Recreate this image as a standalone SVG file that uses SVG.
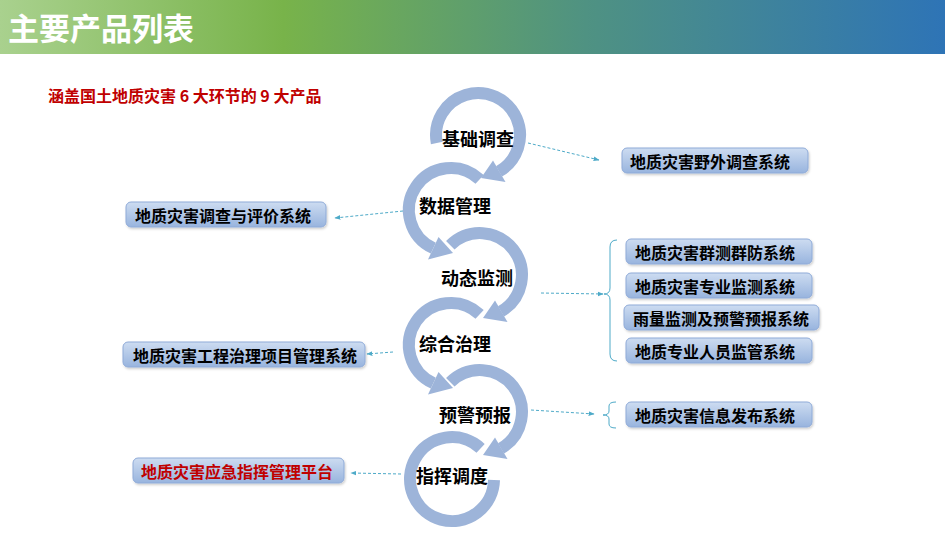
<svg xmlns="http://www.w3.org/2000/svg" width="950" height="535" viewBox="0 0 950 535">
<defs>
<linearGradient id="hdr" x1="0" y1="0" x2="1" y2="0">
<stop offset="0" stop-color="#a9d18e"/>
<stop offset="0.3" stop-color="#78b34a"/>
<stop offset="0.62" stop-color="#4f9282"/>
<stop offset="1" stop-color="#2e74b6"/>
</linearGradient>
<linearGradient id="box" x1="0" y1="0" x2="0" y2="1">
<stop offset="0" stop-color="#cddcf1"/>
<stop offset="1" stop-color="#98b4de"/>
</linearGradient>
<marker id="ah" viewBox="0 0 10 10" refX="9" refY="5" markerWidth="6" markerHeight="6" orient="auto" markerUnits="userSpaceOnUse">
<path d="M0,1 L10,5 L0,9 z" fill="#4eaac8"/>
</marker>
<filter id="sh" x="-5%" y="-20%" width="110%" height="150%">
<feDropShadow dx="1" dy="1.5" stdDeviation="1" flood-color="#000" flood-opacity="0.2"/>
</filter>
</defs>
<style>
.ring{fill:none;stroke:#9db4d9;stroke-width:12}
.head{fill:#9db4d9}
.lbl{font-family:"Noto Sans CJK SC","Liberation Sans",sans-serif;font-weight:bold;font-size:18px;fill:#000;text-anchor:middle;dominant-baseline:central}
.bx{fill:url(#box);stroke:#8fabd8;stroke-width:1;filter:url(#sh)}
.bt{font-family:"Noto Sans CJK SC","Liberation Sans",sans-serif;font-weight:bold;font-size:16px;fill:#000;dominant-baseline:central}
.con{fill:none;stroke:#4eaac8;stroke-width:1;stroke-dasharray:3,2}
.brk{fill:none;stroke:#4eaac8;stroke-width:1}
</style>

<rect x="0" y="0" width="945" height="54" fill="url(#hdr)"/>
<text x="8" y="26" font-family="'Noto Sans CJK SC','Liberation Sans',sans-serif" font-weight="bold" font-size="31" fill="#fff" dominant-baseline="central">主要产品列表</text>
<text x="48" y="95" font-family="'Noto Sans CJK SC','Liberation Sans',sans-serif" font-weight="bold" font-size="16" fill="#c00000" dominant-baseline="central">涵盖国土地质灾害 6 大环节的 9 大产品</text>

<g id="cycle">
<g id="ring1">
<path class="ring" d="M436.8,143 A42,42 0 1 1 499,171.4"/>
<polygon class="head" points="493,160.5 505.5,182 481,178"/>
<text class="lbl" x="478" y="138">基础调查</text>
</g>
<g id="ring2">
<path class="ring" d="M479.6,179.3 A42,42 0 1 0 433.3,248.1"/>
<polygon class="head" points="438.5,237 428,259.5 453,253"/>
<text class="lbl" x="455" y="205">数据管理</text>
</g>
<g id="ring3">
<path class="ring" d="M450.3,245.3 A42,42 0 1 1 501,311.4"/>
<polygon class="head" points="495,300.5 507.5,322 483,318"/>
<text class="lbl" x="477" y="277">动态监测</text>
</g>
<g id="ring4">
<path class="ring" d="M479.6,314.3 A42,42 0 1 0 433.3,383.1"/>
<polygon class="head" points="438.5,372 428,394.5 453,388"/>
<text class="lbl" x="455" y="343">综合治理</text>
</g>
<g id="ring5">
<path class="ring" d="M450.3,382.3 A42,42 0 1 1 501,448.4"/>
<polygon class="head" points="495,437.5 507.5,459 483,455"/>
<text class="lbl" x="475" y="414">预警预报</text>
</g>
<g id="ring6">
<path class="ring" d="M480.6,448.3 A42,42 0 1 0 494,480"/>
<text class="lbl" x="452" y="475">指挥调度</text>
</g>
</g>

<g id="connectors">
<path class="con" d="M528,143 L599,160" marker-end="url(#ah)"/>
<path class="con" d="M403,211 L335,218" marker-end="url(#ah)"/>
<path class="con" d="M541,293 L603,294" marker-end="url(#ah)"/>
<path class="con" d="M393,352 L367,354" marker-end="url(#ah)"/>
<path class="con" d="M531,410 L594,414" marker-end="url(#ah)"/>
<path class="con" d="M401,474 L351,473" marker-end="url(#ah)"/>
<path class="brk" d="M617,240 Q610,240 610,247 L610,288 Q610,294 604,294 Q610,294 610,300 L610,354 Q610,361 617,361"/>
<path class="brk" d="M616,402 Q609,402 609,406 L609,411 Q609,415 603,415 Q609,415 609,419 L609,424 Q609,428 616,428"/>
</g>

<g id="box-yewai"><rect class="bx" x="622" y="148" width="186" height="25" rx="5"/><text class="bt" x="630" y="161">地质灾害野外调查系统</text></g>
<g id="box-pingjia"><rect class="bx" x="126" y="202" width="200" height="25" rx="5"/><text class="bt" x="135" y="215">地质灾害调查与评价系统</text></g>
<g id="box-qunce"><rect class="bx" x="626" y="239" width="186" height="25" rx="5"/><text class="bt" x="635" y="252">地质灾害群测群防系统</text></g>
<g id="box-zhuanye"><rect class="bx" x="626" y="273" width="186" height="25" rx="5"/><text class="bt" x="635" y="286">地质灾害专业监测系统</text></g>
<g id="box-yuliang"><rect class="bx" x="624" y="305" width="195" height="25" rx="5"/><text class="bt" x="633" y="318">雨量监测及预警预报系统</text></g>
<g id="box-renyuan"><rect class="bx" x="626" y="338" width="186" height="25" rx="5"/><text class="bt" x="635" y="351">地质专业人员监管系统</text></g>
<g id="box-gongcheng"><rect class="bx" x="123" y="342" width="242" height="25" rx="5"/><text class="bt" x="133" y="355">地质灾害工程治理项目管理系统</text></g>
<g id="box-xinxi"><rect class="bx" x="626" y="402" width="186" height="25" rx="5"/><text class="bt" x="635" y="415">地质灾害信息发布系统</text></g>
<g id="box-yingji"><rect class="bx" x="133" y="458" width="211" height="25" rx="5"/><text class="bt" x="141" y="471" style="fill:#c00000">地质灾害应急指挥管理平台</text></g>
</svg>
